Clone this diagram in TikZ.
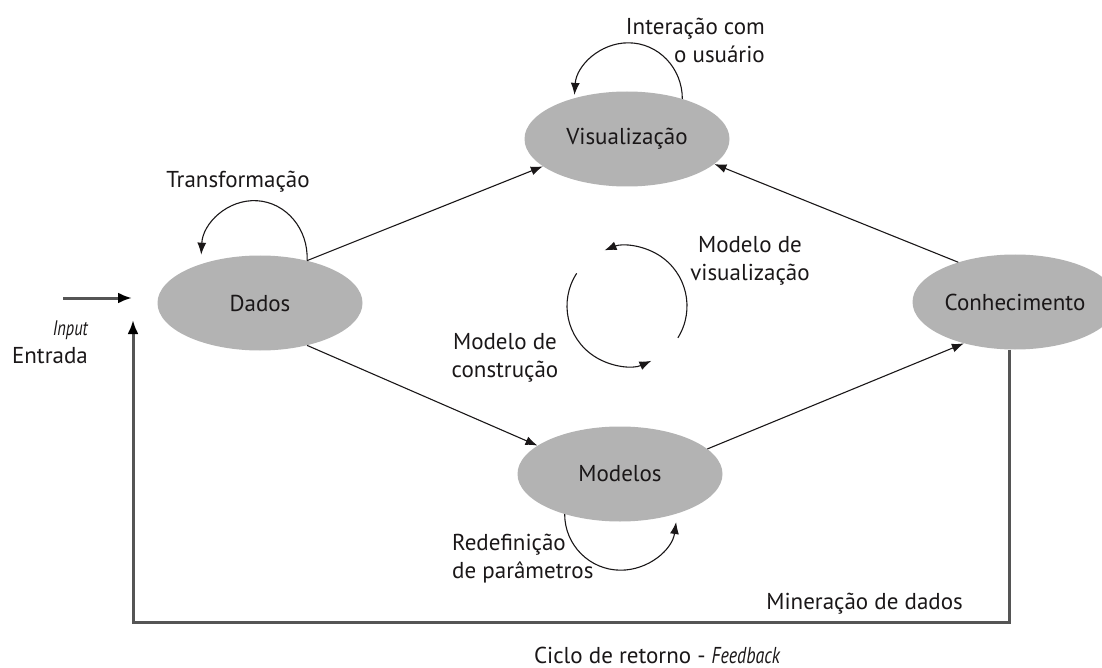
\documentclass[tikz,border=0pt]{standalone}
\usepackage{fontspec}
\setmainfont{PT Sans}
\usetikzlibrary{arrows.meta,shapes.geometric,calc}
\definecolor{nodegray}{HTML}{B3B3B3}
\definecolor{ink}{HTML}{1A1718}
\definecolor{fbgray}{HTML}{555555}
\newcommand{\condit}[1]{\scalebox{0.78}[1]{\itshape #1}}
\begin{document}
\begin{tikzpicture}[x=1pt,y=-1pt,
  state/.style={ellipse, fill=nodegray, minimum width=205pt, minimum height=95pt, inner sep=0pt, font=\fontsize{23}{28}\selectfont, text=ink},
  lbl/.style={font=\fontsize{23}{28}\selectfont, text=ink, inner sep=0pt},
  tip/.style={-{Latex[length=12pt,width=9pt]}},
  conn/.style={draw=ink, line width=1.1pt, tip},
  fb/.style={draw=fbgray, line width=3pt},
  fbtip/.style={-{Latex[length=14pt,width=11pt,fill=black,color=black]}},
  ]
\useasboundingbox (0,0) rectangle (1102,668);
\node[state] (dados) at (260,303) {Dados};
\node[state] (vis) at (627,139) {Visualização};
\node[state] (mod) at (620,474) {Modelos};
\node[state] (con) at (1015,302) {Conhecimento};

\draw[conn] (dados.42) -- (vis.198);
\draw[conn] (con.145) -- (vis.344);
\draw[conn] (dados.318) -- (mod.161);
\draw[conn] (mod.16) -- (con.219);

\draw[conn] (dados.42) arc[start angle=-3, end angle=177, x radius=53pt, y radius=57pt];
\draw[conn] (vis.36) arc[start angle=0, end angle=176, x radius=54pt, y radius=56pt];
\draw[conn] (mod.216) arc[start angle=180, end angle=352, radius=56pt];

\coordinate (cyc) at (627,306);
\draw[conn] ($(cyc)+(147:60pt)$) arc[start angle=147, end angle=294, radius=60pt];
\draw[conn] ($(cyc)+(-32:60pt)$) arc[start angle=-32, end angle=112, radius=60pt];

\coordinate (fbR) at (1009,622);
\coordinate (fbL) at (133,622);
\coordinate (fbT) at (133,320);
\draw[fb, fbtip] (con.south -| fbR) -- (fbR) -- (fbL) -- (fbT);
\coordinate (inS) at (63,298);
\coordinate (inE) at (132,298);
\draw[fb, fbtip] (inS) -- (inE);

\node[lbl] (ltrans) at (238,182) {Transformação};
\node[lbl, align=right, anchor=east] (linter) at (765,40) {Interação com\\o usuário};
\node[lbl, align=center] (lmv) at (750,261) {Modelo de\\visualização};
\node[lbl, align=center] (lmc) at (505,358) {Modelo de\\construção};
\node[lbl, align=left, anchor=west] (lred) at (452,559) {Redefinição\\de parâmetros};
\node[lbl, anchor=east] (lmin) at (963,604) {Mineração de dados};
\node[lbl] (lcic) at (657,655) {Ciclo de retorno - \condit{Feedback}};
\node[lbl, anchor=east] (lent) at (88,356) {Entrada};
\node[lbl, anchor=east, font=\fontsize{21}{24}\selectfont] (linp) at (88,330) {\condit{Input}};
\end{tikzpicture}
\end{document}
